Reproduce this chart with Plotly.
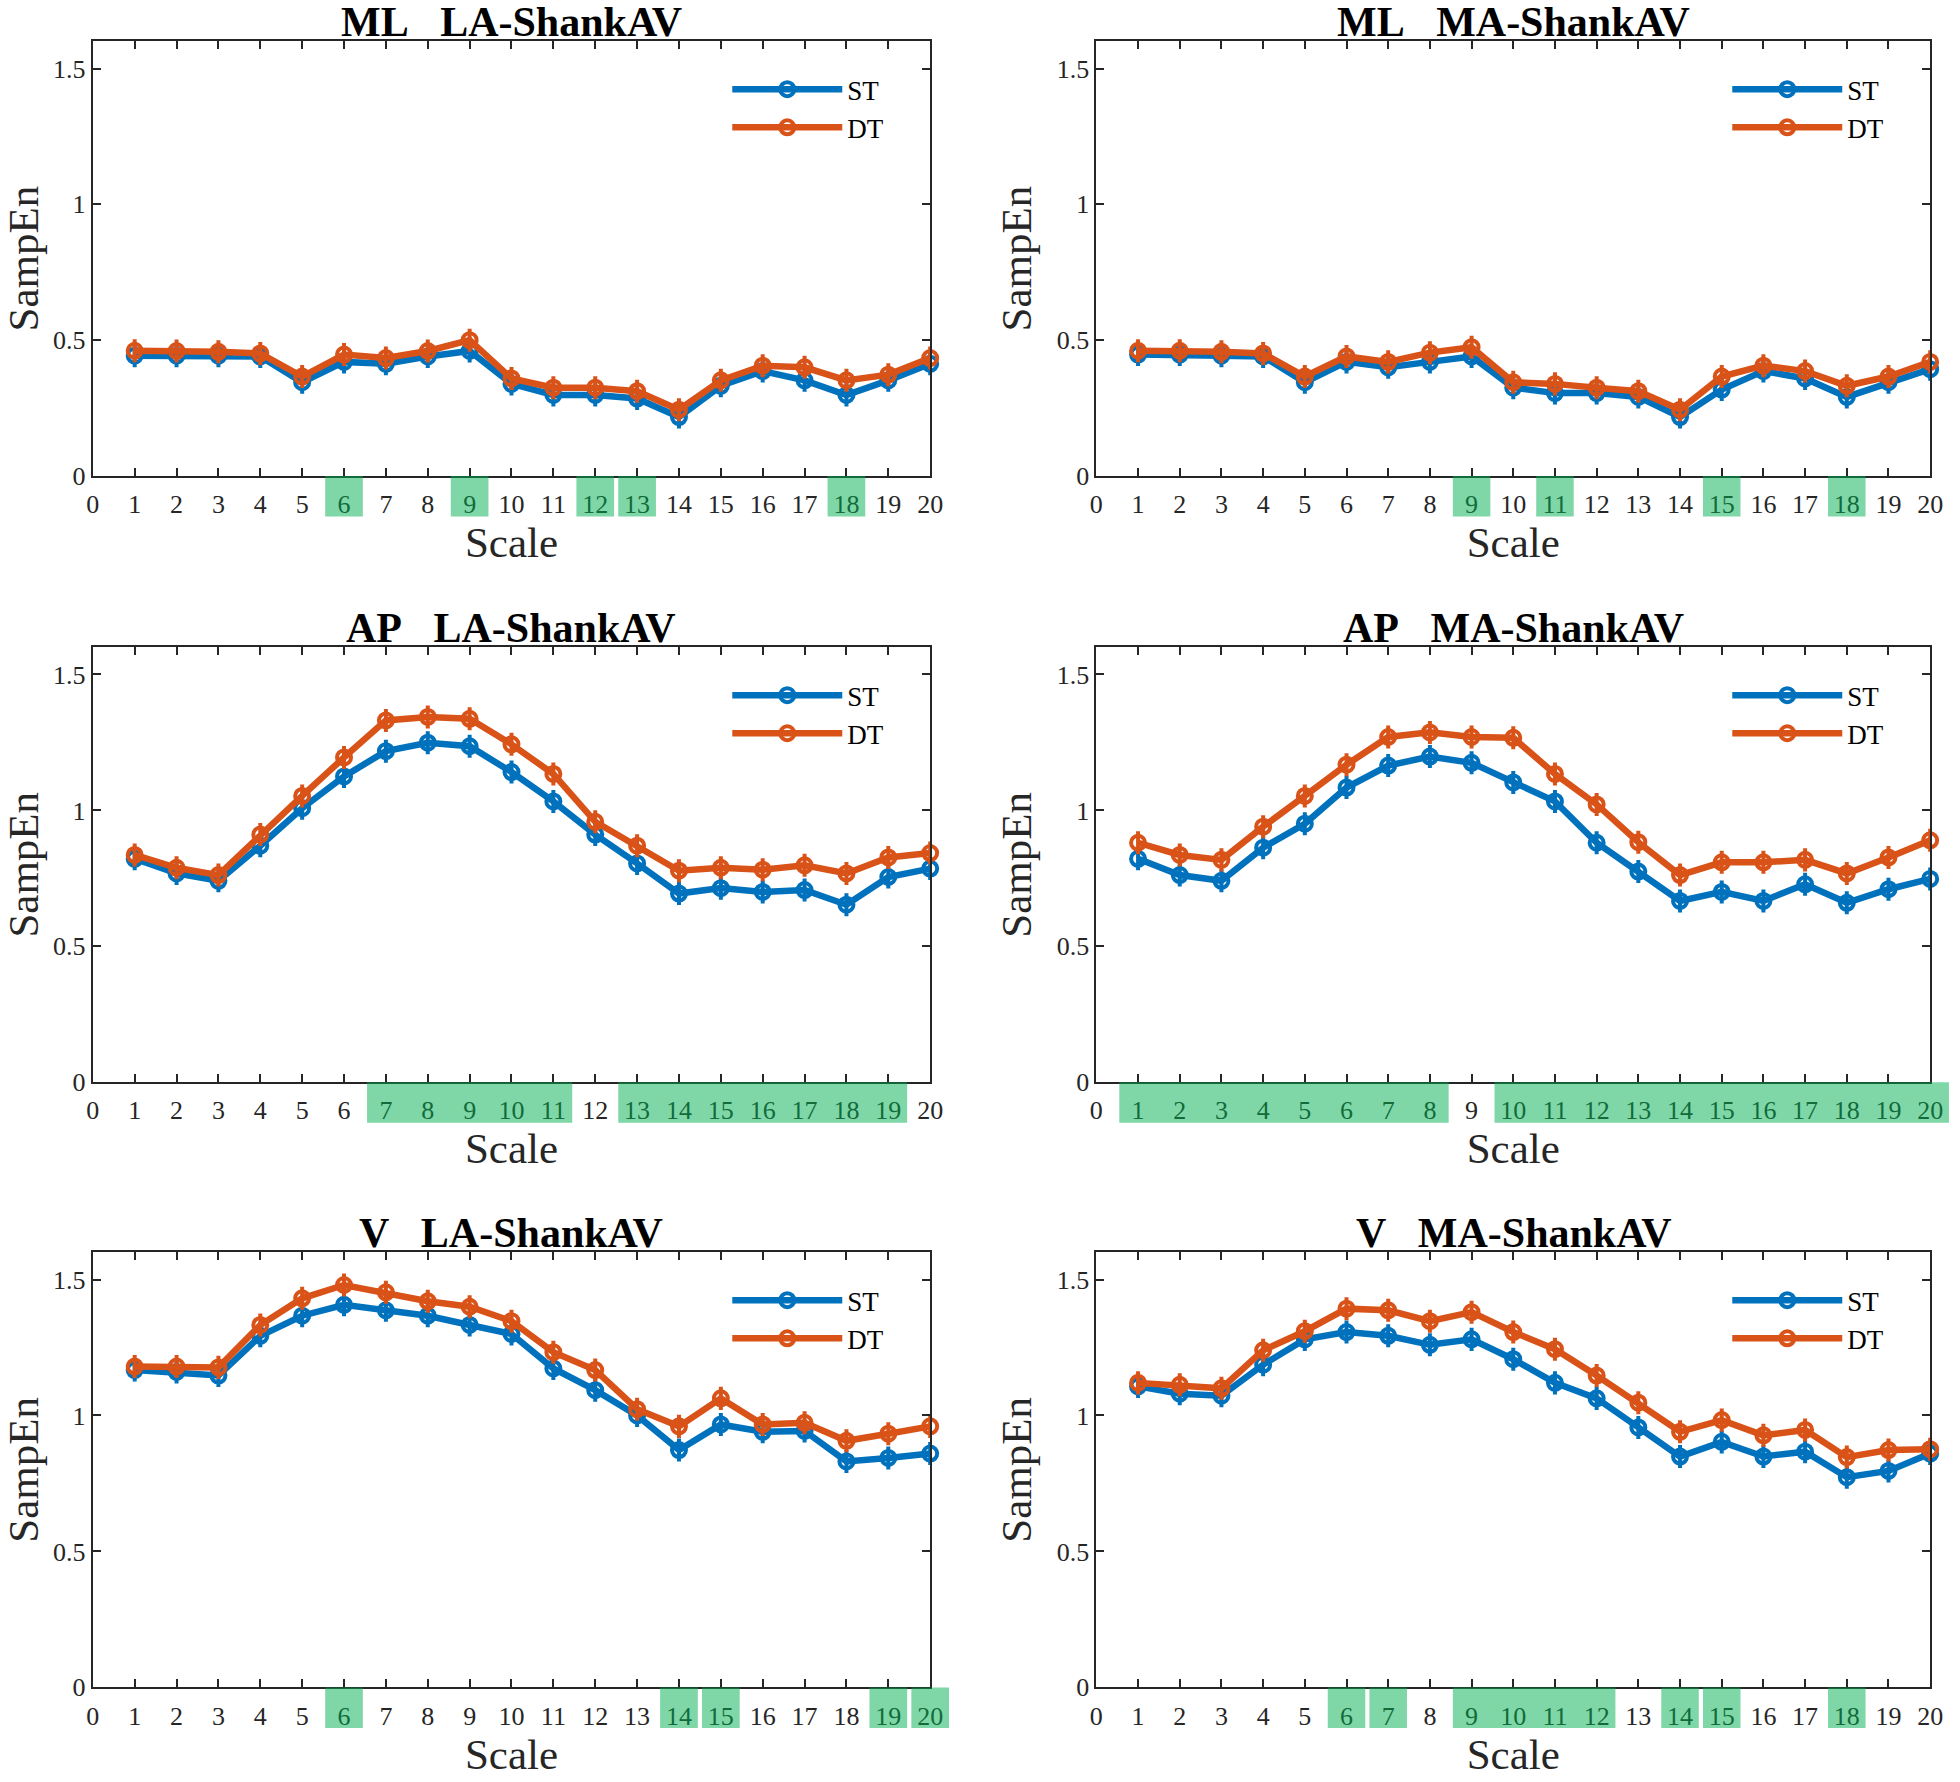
import plotly.graph_objects as go

# ---------------- data ----------------
SCALES = list(range(1, 21))
X_TICKS = list(range(0, 21))
Y_TICKS = [0, 0.5, 1, 1.5]
Y_TICK_LABELS = ["0", "0.5", "1", "1.5"]
X_RANGE = [0, 20]
Y_RANGE = [0, 1.6]
SERIES_NAMES = ["ST", "DT"]

ML_LA_ST = [0.443, 0.443, 0.443, 0.440, 0.345, 0.420, 0.413, 0.440, 0.460, 0.339,
            0.298, 0.298, 0.285, 0.217, 0.332, 0.386, 0.352, 0.298, 0.352, 0.413]
ML_LA_DT = [0.461, 0.460, 0.457, 0.451, 0.366, 0.447, 0.434, 0.460, 0.500, 0.359,
            0.325, 0.325, 0.312, 0.244, 0.352, 0.406, 0.400, 0.352, 0.373, 0.434]

ML_MA_ST = [0.447, 0.447, 0.443, 0.440, 0.345, 0.420, 0.400, 0.420, 0.440, 0.325,
            0.305, 0.305, 0.291, 0.217, 0.318, 0.386, 0.359, 0.291, 0.345, 0.393]
ML_MA_DT = [0.461, 0.461, 0.457, 0.451, 0.366, 0.440, 0.420, 0.454, 0.474, 0.345,
            0.339, 0.325, 0.312, 0.244, 0.366, 0.406, 0.386, 0.332, 0.366, 0.420]

AP_LA_ST = [0.822, 0.768, 0.741, 0.870, 1.008, 1.125, 1.218, 1.249, 1.236, 1.141,
            1.033, 0.911, 0.805, 0.694, 0.714, 0.700, 0.707, 0.653, 0.755, 0.786]
AP_LA_DT = [0.836, 0.789, 0.762, 0.911, 1.053, 1.195, 1.331, 1.344, 1.337, 1.243,
            1.134, 0.958, 0.870, 0.778, 0.789, 0.782, 0.798, 0.768, 0.827, 0.843]

AP_MA_ST = [0.822, 0.762, 0.741, 0.863, 0.951, 1.084, 1.165, 1.198, 1.175, 1.103,
            1.033, 0.881, 0.775, 0.667, 0.700, 0.667, 0.728, 0.660, 0.710, 0.748]
AP_MA_DT = [0.881, 0.836, 0.818, 0.940, 1.053, 1.168, 1.270, 1.287, 1.270, 1.267,
            1.134, 1.022, 0.883, 0.762, 0.809, 0.809, 0.818, 0.768, 0.827, 0.890]

V_LA_ST = [1.167, 1.160, 1.147, 1.293, 1.367, 1.407, 1.387, 1.367, 1.333, 1.300,
           1.173, 1.093, 1.000, 0.873, 0.967, 0.940, 0.943, 0.831, 0.844, 0.860]
V_LA_DT = [1.180, 1.180, 1.177, 1.333, 1.431, 1.480, 1.453, 1.420, 1.400, 1.347,
           1.233, 1.167, 1.023, 0.960, 1.063, 0.967, 0.973, 0.907, 0.933, 0.960]

V_MA_ST = [1.107, 1.080, 1.073, 1.187, 1.280, 1.307, 1.293, 1.260, 1.280, 1.207,
           1.120, 1.063, 0.956, 0.849, 0.903, 0.849, 0.867, 0.773, 0.796, 0.860]
V_MA_DT = [1.120, 1.113, 1.100, 1.240, 1.310, 1.393, 1.387, 1.347, 1.380, 1.307,
           1.244, 1.147, 1.047, 0.940, 0.983, 0.927, 0.947, 0.847, 0.873, 0.876]

# significant scales (each group drawn as one highlighted box)
ML_LA_SIG = [[6], [9], [12], [13], [18]]
ML_MA_SIG = [[9], [11], [15], [18]]
AP_LA_SIG = [[7, 8, 9, 10, 11], [13, 14, 15, 16, 17, 18, 19]]
AP_MA_SIG = [[1, 2, 3, 4, 5, 6, 7, 8], [10, 11, 12, 13, 14, 15, 16, 17, 18, 19, 20]]
V_LA_SIG = [[6], [14], [15], [19], [20]]
V_MA_SIG = [[6], [7], [9, 10, 11, 12], [14], [15], [18]]

ERR = 0.035  # approximate half-length of the error bars

PANELS = [
    ("ML", "LA-ShankAV", ML_LA_ST, ML_LA_DT, ML_LA_SIG),
    ("ML", "MA-ShankAV", ML_MA_ST, ML_MA_DT, ML_MA_SIG),
    ("AP", "LA-ShankAV", AP_LA_ST, AP_LA_DT, AP_LA_SIG),
    ("AP", "MA-ShankAV", AP_MA_ST, AP_MA_DT, AP_MA_SIG),
    ("V", "LA-ShankAV", V_LA_ST, V_LA_DT, V_LA_SIG),
    ("V", "MA-ShankAV", V_MA_ST, V_MA_DT, V_MA_SIG),
]

# ---------------- style / layout ----------------
W, H = 1960, 1782
FONT = "Liberation Serif"
BLUE = "#0072BD"
ORANGE = "#D95319"
AXC = "#262626"
COL_X = [(86.7, 932.7), (1100.6, 1943.0)]
ROW_Y = [(41.7, 480.0), (652.8, 1091.4), (1263.0, 1701.7)]

fig = go.Figure()
layout = dict(
    width=W, height=H, margin=dict(l=0, r=0, t=0, b=0),
    paper_bgcolor="white", plot_bgcolor="white",
    font=dict(family=FONT, color=AXC),
    shapes=[], annotations=[],
)

for k, (comp, site, st, dt, sig) in enumerate(PANELS):
    r, c = divmod(k, 2)
    n = "" if k == 0 else str(k + 1)
    xd = [COL_X[c][0] / W, COL_X[c][1] / W]
    yd = [1 - ROW_Y[r][1] / H, 1 - ROW_Y[r][0] / H]
    leg = "legend" + n
    for name, vals, col in ((SERIES_NAMES[0], st, BLUE), (SERIES_NAMES[1], dt, ORANGE)):
        fig.add_trace(go.Scatter(
            x=SCALES, y=vals, name=name, mode="lines+markers",
            xaxis="x" + n, yaxis="y" + n, legend=leg,
            line=dict(color=col, width=6.5),
            marker=dict(symbol="circle-open", size=14, color=col, line=dict(width=4, color=col)),
            error_y=dict(type="constant", value=ERR, color=col, thickness=4, width=2),
            cliponaxis=False,
        ))
    layout["xaxis" + n] = dict(
        domain=xd, anchor="y" + n, range=X_RANGE, tickmode="array",
        tickvals=X_TICKS, ticktext=[str(t) for t in X_TICKS],
        ticks="inside", ticklen=8, tickwidth=2, tickcolor=AXC,
        showline=True, linecolor=AXC, linewidth=2, mirror="ticks",
        showgrid=False, zeroline=False,
        tickfont=dict(family=FONT, size=26, color=AXC), ticklabelstandoff=4,
        title=dict(text="Scale", font=dict(family=FONT, size=43, color=AXC), standoff=2),
    )
    layout["yaxis" + n] = dict(
        domain=yd, anchor="x" + n, range=Y_RANGE, tickmode="array",
        tickvals=Y_TICKS, ticktext=Y_TICK_LABELS,
        ticks="inside", ticklen=8, tickwidth=2, tickcolor=AXC,
        showline=True, linecolor=AXC, linewidth=2, mirror="ticks",
        showgrid=False, zeroline=False,
        tickfont=dict(family=FONT, size=26, color=AXC), ticklabelstandoff=0,
        title=dict(text="SampEn", font=dict(family=FONT, size=43, color=AXC), standoff=12),
    )
    layout[leg] = dict(
        x=xd[1] - 205 / W, xanchor="left", y=yd[1] - 24 / H, yanchor="top",
        bgcolor="rgba(0,0,0,0)", borderwidth=0, itemwidth=110,
        font=dict(family=FONT, size=27, color="black"), tracegroupgap=0,
    )
    # title
    layout["annotations"].append(dict(
        text="<b>" + comp + "\u00a0\u00a0\u00a0" + site + "</b>",
        x=(xd[0] + xd[1]) / 2, y=yd[1], xref="paper", yref="paper",
        xanchor="center", yanchor="bottom", yshift=-6, showarrow=False,
        font=dict(family=FONT, size=42, color="black"),
    ))
    # significance boxes
    span = X_RANGE[1] - X_RANGE[0]
    for g in sig:
        layout["shapes"].append(dict(
            type="rect", xref="x" + n + " domain", yref="y" + n + " domain",
            x0=(g[0] - 0.45 - X_RANGE[0]) / span, x1=(g[-1] + 0.45 - X_RANGE[0]) / span,
            y0=-41 / (ROW_Y[r][1] - ROW_Y[r][0]), y1=0,
            fillcolor="rgb(0,176,80)", opacity=0.5, line=dict(width=0), layer="above",
        ))

fig.update_layout(**layout)
fig.write_html(
    "out.html",
    config={"displayModeBar": False},
    post_script="document.body.style.margin='0';document.body.style.overflow='hidden';",
)
